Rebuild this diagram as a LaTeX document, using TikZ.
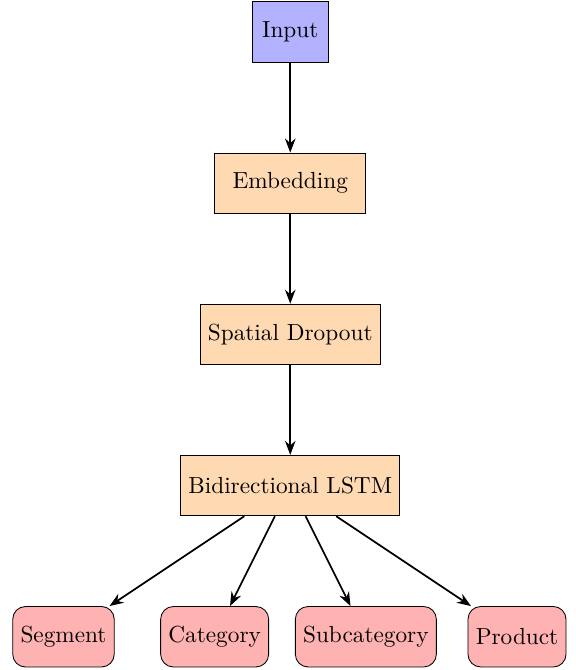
\documentclass[tikz,border=0pt,11pt]{standalone}
\usetikzlibrary{arrows.meta}
\tikzset{layer/.style={draw=black, fill=orange!30, minimum height=1cm, minimum width=2.5cm},
inlayer/.style={draw=black, fill=blue!30, minimum height=1cm, minimum width=1.25cm},
%outputs get rounded corners
outlayer/.style={draw=black, fill=red!30, rounded corners=6pt, minimum height=1cm},
flow/.style={-Stealth, thick}}
\begin{document}
\begin{tikzpicture}

\useasboundingbox (-4.80, 0.53) rectangle (4.71, -10.55);

\node[inlayer] (input)   at (0.0,  0.0) {Input};
\node[layer]   (embed)   at (0.0, -2.5) {Embedding};
\node[layer]   (dropout) at (0.0, -5.0) {Spatial Dropout};
\node[layer]   (lstm)    at (0.0, -7.5) {Bidirectional LSTM};

\node[outlayer] (segment)     at (-3.75, -10.0) {Segment};
\node[outlayer] (category)    at (-1.25, -10.0) {Category};
\node[outlayer] (subcategory) at ( 1.25, -10.0) {Subcategory};
\node[outlayer] (product)     at ( 3.75, -10.0) {Product};

\draw[flow] (input) -- (embed);
\draw[flow] (embed) -- (dropout);
\draw[flow] (dropout) -- (lstm);

\foreach \i in {segment, category, subcategory, product}
    \draw[flow] (lstm) -- (\i);

\end{tikzpicture}
\end{document}
